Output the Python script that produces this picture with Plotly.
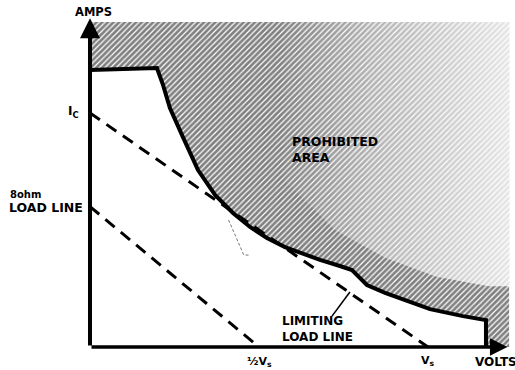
import plotly.graph_objects as go

# ---- data (volts / amps) ----
curve_v = [0, 3.96, 4.32, 4.73, 5.50, 6.39, 7.40, 8.46, 9.47, 10.47, 11.54, 12.43,
           13.61, 14.79, 15.50, 15.86, 16.39, 17.46, 18.34, 20.12, 22.07, 23.43, 23.43]
curve_a = [11.84, 11.92, 11.20, 10.21, 8.97, 7.56, 6.50, 5.73, 5.13, 4.66, 4.27, 4.02,
           3.72, 3.46, 3.29, 3.03, 2.65, 2.31, 2.09, 1.62, 1.32, 1.15, 0]
limit_line_v = [0, 20]      # Ic -> Vs
limit_line_a = [10, 0]
ohm8_line_v = [0, 10]       # 8 ohm load line -> 1/2 Vs
ohm8_line_a = [6, 0]
area_top = 13.89
area_right = 24.8
pointer_v = [14.32, 15.38]
pointer_a = [1.32, 2.35]
stray_v = [8.2, 8.7, 9.1, 9.5]
stray_a = [5.43, 4.58, 3.93, 3.93]
fade_v = [11.0, 24.8, 24.8, 23.6, 20.5, 17.5, 14.5, 11.0]
fade_a = [13.89, 13.89, 2.6, 2.6, 3.0, 3.8, 5.0, 7.5]
x_range = [-5.325, 25.148]
y_range = [-0.983, 14.829]

FONT = "DejaVu Sans"

fig = go.Figure()

# prohibited (hatched) area
hx = [0, area_right, area_right] + curve_v[::-1]
hy = [area_top, area_top, 0] + curve_a[::-1]
fig.add_trace(go.Scatter(
    x=hx, y=hy, mode="lines", fill="toself", line=dict(width=0),
    fillpattern=dict(shape="/", size=4, solidity=0.7, fgcolor="black", bgcolor="white"),
    hoverinfo="skip"))

# fading of the hatching towards the upper right
fig.add_trace(go.Scatter(
    x=fade_v, y=fade_a, mode="lines", fill="toself", line=dict(width=0),
    fillgradient=dict(type="horizontal",
                      colorscale=[[0, "rgba(255,255,255,0)"],
                                  [0.4, "rgba(255,255,255,0.4)"],
                                  [1, "rgba(255,255,255,0.8)"]]),
    hoverinfo="skip"))

# dashed load lines
for xv, yv in [(limit_line_v, limit_line_a), (ohm8_line_v, ohm8_line_a)]:
    fig.add_trace(go.Scatter(x=xv, y=yv, mode="lines",
                             line=dict(color="black", width=3, dash="12px,8px"),
                             hoverinfo="skip"))

# limit curve
fig.add_trace(go.Scatter(x=curve_v, y=curve_a, mode="lines",
                         line=dict(color="black", width=4), hoverinfo="skip"))

# pointer and stray mark
fig.add_trace(go.Scatter(x=pointer_v, y=pointer_a, mode="lines",
                         line=dict(color="black", width=1.6), hoverinfo="skip"))
fig.add_trace(go.Scatter(x=stray_v, y=stray_a, mode="lines",
                         line=dict(color="#777", width=1, dash="3px,2px"), hoverinfo="skip"))

# axes with arrows
fig.add_annotation(x=0, y=14.05, ax=0, ay=0, xref="x", yref="y", axref="x", ayref="y",
                   showarrow=True, arrowhead=2, arrowsize=1, arrowwidth=4, arrowcolor="black", text="")
fig.add_annotation(x=24.7, y=0, ax=0, ay=0, xref="x", yref="y", axref="x", ayref="y",
                   showarrow=True, arrowhead=2, arrowsize=1, arrowwidth=3.5, arrowcolor="black", text="")

def label(text, x, y, size, xanchor="center", align="center", color="black"):
    fig.add_annotation(x=x, y=y, xref="x", yref="y", text=text, showarrow=False,
                       xanchor=xanchor, yanchor="middle", align=align,
                       font=dict(family=FONT, size=size, color=color))

label("<b>AMPS</b>", 0.18, 14.32, 11.5)
label("<b>I<sub>C</sub></b>", -0.55, 10.05, 12, xanchor="right")
label("<b>8ohm</b>", -4.85, 6.5, 10, xanchor="left")
label("<b>LOAD LINE</b>", -0.3, 5.98, 12.5, xanchor="right")
label("<b>PROHIBITED<br>AREA</b>", 11.83, 8.42, 12.5, xanchor="left", align="left")
label("<b>LIMITING<br>LOAD LINE</b>", 11.24, 0.75, 12, xanchor="left", align="left")
label("<b>½V<sub>s</sub></b>", 10, -0.62, 11)
label("<b>V<sub>s</sub></b>", 20, -0.6, 11)
label("<b>VOLTS</b>", 22.66, -0.64, 12, xanchor="left")

fig.update_layout(
    width=515, height=370, margin=dict(l=0, r=0, t=0, b=0),
    paper_bgcolor="white", plot_bgcolor="white", showlegend=False,
    xaxis=dict(range=x_range, visible=False, fixedrange=True),
    yaxis=dict(range=y_range, visible=False, fixedrange=True),
)

fig.write_html("out.html", config={"displayModeBar": False},
               post_script="document.body.style.margin='0';document.body.style.overflow='hidden';")
